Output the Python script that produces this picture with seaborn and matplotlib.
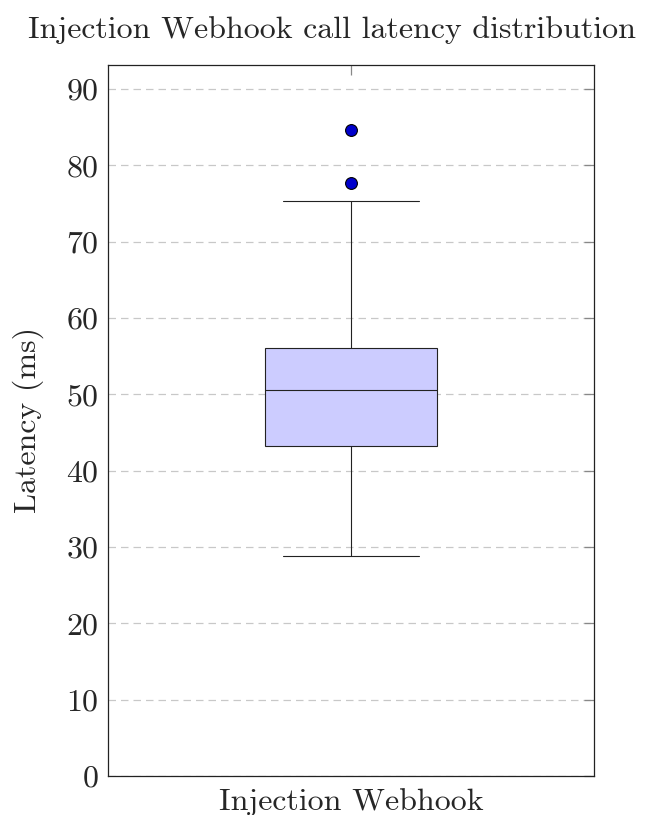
import matplotlib
matplotlib.use('Agg')
import matplotlib.pyplot as plt
import numpy as np
import pandas as pd
import seaborn as sns

# Hand-picked latency sample (ms) whose quartiles/whiskers match the figure
category = 'Injection Webhook'
latency_ms = [28.8, 36.0, 40.5, 43.3, 46.0, 48.9, 50.6,
              52.4, 54.0, 56.1, 75.3, 77.7, 84.7]
y_ticks = [0, 10, 20, 30, 40, 50, 60, 70, 80, 90]

df = pd.DataFrame({'service': [category] * len(latency_ms), 'latency': latency_ms})

sns.set_style('white')
plt.rcParams['font.family'] = ['cmr10', 'DejaVu Serif']
plt.rcParams['mathtext.fontset'] = 'cm'
plt.rcParams['axes.formatter.use_mathtext'] = True

fig = plt.figure(figsize=(6.47, 8.15), dpi=100)
ax = fig.add_axes([0.1669, 0.0479, 0.7512, 0.8727])

sns.boxplot(
    x='service',
    y='latency',
    data=df,
    ax=ax,
    width=0.352,
    whis=1.6,
    color='#ccccff',
    linecolor='#222222',
    linewidth=0.8,
    flierprops=dict(marker='o', markerfacecolor='#0000cc', markeredgecolor='black',
                    markeredgewidth=0.8, markersize=8.5),
    saturation=1,
)

# widen caps to match reference
lo, hi = min(latency_ms), 75.3
for ln in ax.lines:
    yd = np.asarray(ln.get_ydata(), dtype=float)
    xd = np.asarray(ln.get_xdata(), dtype=float)
    if len(yd) == 2 and yd[0] == yd[1] and (np.isclose(yd[0], lo) or np.isclose(yd[0], hi)):
        c = xd.mean()
        ln.set_xdata([c - 0.14, c + 0.14])

ax.set_ylim(0, 93.2)
ax.set_xlim(-0.5, 0.5)
ax.set_yticks(y_ticks)
ax.yaxis.grid(True, linestyle=(0, (6, 4)), color='#c8c8c8', linewidth=0.9)
ax.set_axisbelow(True)
for s in ax.spines.values():
    s.set_color('#222222')
    s.set_linewidth(0.9)
ax.tick_params(axis='both', direction='in', length=7, width=0.9, color='#888888',
               labelsize=23, top=True, right=True, pad=7)
ax.tick_params(axis='x', pad=9)
ax.set_xlabel('')
ax.set_ylabel('Latency (ms)', fontsize=23)
ax.yaxis.set_label_coords((44 - 108) / 486, 0.5)
fig.text(332 / 647, 1 - 30 / 815, 'Injection Webhook call latency distribution',
         ha='center', va='center', fontsize=23)

fig.savefig('out.png', dpi=100)
